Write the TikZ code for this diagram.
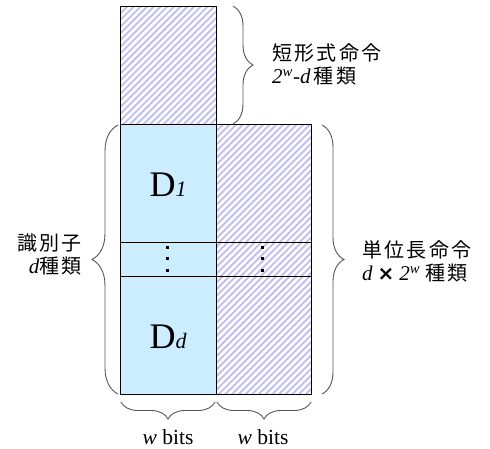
\documentclass[tikz,border=0pt]{standalone}
\usepackage{fontspec}
\setmainfont{Liberation Serif}
\newfontfamily\cjk[LetterSpace=12]{Noto Sans CJK JP}
\newfontfamily\djv{DejaVu Sans}
\usetikzlibrary{decorations.pathreplacing}
\definecolor{idblue}{RGB}{204,236,255}
\definecolor{hatchc}{RGB}{192,192,242}
\definecolor{bracec}{RGB}{85,85,85}
\newcommand{\lat}[1]{{\fontsize{21}{23}\selectfont\itshape #1}}
\begin{document}
\begin{tikzpicture}[x=1pt,y=-1pt,
  cell/.style={draw=black, line width=0.8pt, inner sep=0pt, outer sep=0pt, minimum width=95.5pt},
  idcell/.style={cell, fill=idblue},
  hatched/.style={cell, fill=white, path picture={
      \foreach \i in {-340,-333.3,...,-50}
        \draw[hatchc, line width=1.9pt] (\i,200) -- ++(420,-420);}},
  brc/.style={draw=bracec, line width=0.9pt, decorate, decoration={brace, amplitude=#1}},
  dotsq/.style={fill=black, inner sep=0pt, minimum size=3pt},
  lbl/.style={inner sep=0pt, font=\fontsize{20}{23}\selectfont},
  bitlbl/.style={inner sep=0pt, font=\fontsize{21.5}{23}\selectfont},
  bigD/.style={inner sep=0pt, font=\fontsize{36}{36}\selectfont}
]
\useasboundingbox (0,0) rectangle (490,448);

% cells
\node[hatched, minimum height=118.5pt] (top) at (168.25,65.25) {};
\node[idcell, minimum height=118pt] (d1) at (168.25,183.5) {};
\node[idcell, minimum height=33.5pt] (dl) at (168.25,259.25) {};
\node[idcell, minimum height=118pt] (dd) at (168.25,335) {};
\node[hatched, minimum height=118pt] (r1) at (263.75,183.5) {};
\node[hatched, minimum height=33.5pt] (rl) at (263.75,259.25) {};
\node[hatched, minimum height=118pt] (rd) at (263.75,335) {};

% labels in cells
\node[bigD] (d1t) at (168,185) {D{\fontsize{22}{22}\selectfont\itshape 1}};
\node[bigD] (ddt) at (168,337) {D{\fontsize{22}{22}\selectfont\itshape d}};

% vertical dots
\foreach \y [count=\k] in {247,258.5,270}{
  \node[dotsq] (ldot\k) at (167,\y) {};
  \node[dotsq] (rdot\k) at (262,\y) {};
}

% braces
\coordinate (tb1) at (233,6);
\coordinate (tb2) at (233,124);
\draw[brc=20pt] (tb1) -- (tb2);
\coordinate (lb1) at (118,394);
\coordinate (lb2) at (118,125);
\draw[brc=26pt] (lb1) -- (lb2);
\coordinate (rb1) at (322,125);
\coordinate (rb2) at (322,394);
\draw[brc=22pt] (rb1) -- (rb2);
\coordinate (bl1) at (215,402);
\coordinate (bl2) at (121,402);
\draw[brc=17pt] (bl1) -- (bl2);
\coordinate (br1) at (311,402);
\coordinate (br2) at (217,402);
\draw[brc=17pt] (br1) -- (br2);

% side labels
\node[lbl, anchor=west, align=left] (shortl) at (272,64.5)
  {{\cjk 短形式命令}\\\lat{2\textsuperscript{w}-d}\,{\cjk 種類}};
\node[lbl, anchor=east, align=right] (idl) at (82,254)
  {{\cjk 識別子}\\\lat{d}{\cjk 種類}};
\node[lbl, anchor=west, align=left] (unitl) at (362,261.5)
  {{\cjk 単位長命令}\\\lat{d} {\djv\bfseries ×} \lat{2\textsuperscript{w}} {\cjk 種類}};

% bottom labels
\node[bitlbl] (bw1) at (168,437) {{\itshape w} bits};
\node[bitlbl] (bw2) at (263,437) {{\itshape w} bits};
\end{tikzpicture}
\end{document}
